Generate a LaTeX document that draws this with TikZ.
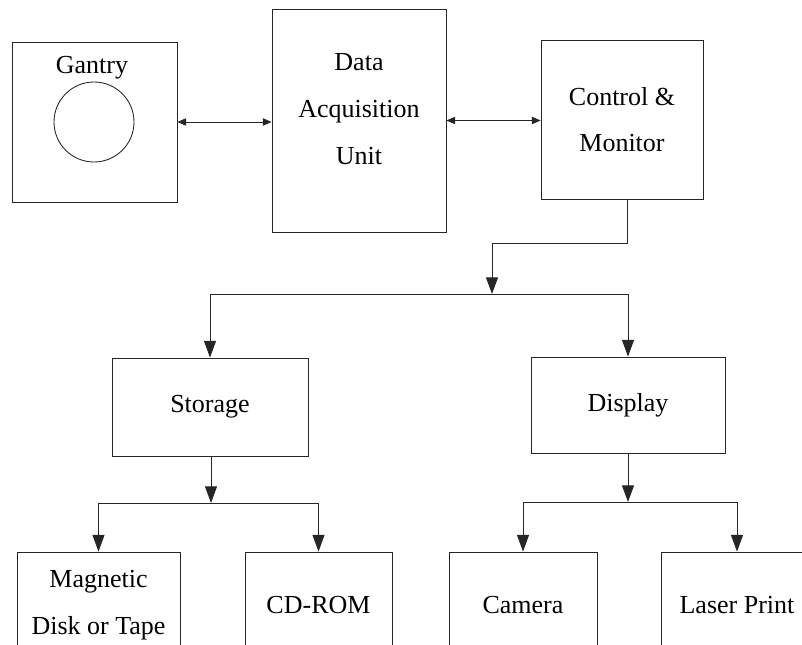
\documentclass[tikz,border=0pt]{standalone}
\usepackage{fontspec}
\setmainfont{Liberation Serif}
\usetikzlibrary{arrows.meta}

\begin{document}
\begin{tikzpicture}[x=0.75pt, y=-0.75pt,
	every node/.style={font=\fontsize{19.5}{35}\selectfont},
	box/.style={draw=black!85, line width=0.65pt, inner sep=0pt, align=center},
	link/.style={draw=black!85, line width=0.65pt},
	twoway/.style={link, {Triangle[length=6.5pt,width=5.5pt]}-{Triangle[length=6.5pt,width=5.5pt]}},
	>={Triangle[length=12.5pt, width=9pt]}]
	\useasboundingbox (0,0) rectangle (802,645);
	\clip (0,0) rectangle (802,645);
	% top row
	\node[box, minimum width=123.75pt, minimum height=120pt] (gantry) at (94.5,122) {};
	\node (gantrylabel) at (92,68) {Gantry};
	\node[box, circle, minimum size=60pt] (ring) at (94,122) {};
	\node[box, minimum width=130.5pt, minimum height=167.25pt] (daq) at (359,120.5) {};
	\node[align=center] (daqlabel) at (359,109) {Data\\Acquisition\\Unit};
	\node[box, minimum width=121.5pt, minimum height=119.25pt] (ctrl) at (622,119.5) {Control \&\\Monitor};
	% middle row
	\node[box, minimum width=147pt, minimum height=73.5pt] (storage) at (210,407) {Storage};
	\node[box, minimum width=145.5pt, minimum height=72pt] (display) at (628,405) {Display};
	% bottom row (cut off by the page)
	\node[box, minimum width=122.25pt, minimum height=79.5pt] (magnetic) at (98.5,605) {Magnetic\\Disk or Tape};
	\node[box, minimum width=110.25pt, minimum height=79.5pt] (cdrom) at (318.5,605) {CD-ROM};
	\node[box, minimum width=111pt, minimum height=79.5pt] (camera) at (523,605) {Camera};
	\node[box, minimum width=114pt, minimum height=79.5pt] (laser) at (737,605) {Laser Print};
	\coordinate (bend) at (627,243);
	\coordinate (split) at (492,294);
	\coordinate (sjoin) at (211,503);
	\coordinate (djoin) at (628,502);
	% connectors
	\draw[twoway] (gantry.east) -- (gantry.east -| daq.west);
	\draw[twoway] (daq.east) -- (daq.east -| ctrl.west);
	\draw[link, ->] (ctrl.south -| bend) -- (bend) -| (split);
	\draw[link, ->] (split) -| (storage.north);
	\draw[link, ->] (split) -| (display.north);
	\draw[link, ->] (storage.south -| sjoin) -- (sjoin);
	\draw[link, ->] (sjoin) -| (magnetic.north);
	\draw[link, ->] (sjoin) -| (cdrom.north);
	\draw[link, ->] (display.south) -- (djoin);
	\draw[link, ->] (djoin) -| (camera.north);
	\draw[link, ->] (djoin) -| (laser.north);
\end{tikzpicture}
\end{document}
